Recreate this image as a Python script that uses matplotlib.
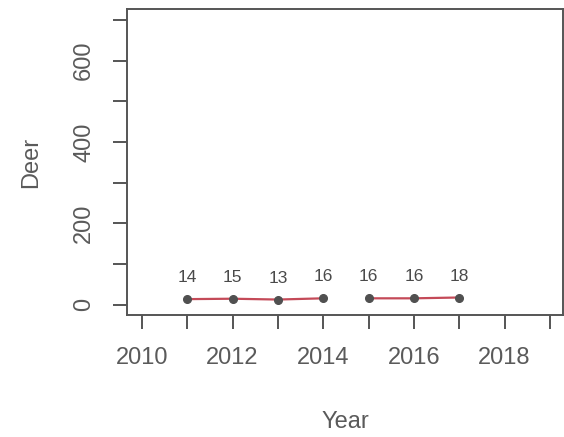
import matplotlib
matplotlib.use("Agg")
import matplotlib.pyplot as plt
import numpy as np

years_a = [2011, 2012, 2013, 2014]
deer_a = [14, 15, 13, 16]
years_b = [2015, 2016, 2017]
deer_b = [16, 16, 18]

xticks = list(range(2010, 2020))
xticklabels = [str(y) if y % 2 == 0 else "" for y in xticks]
yticks = list(range(0, 800, 100))
yticklabels = [str(v) if v % 200 == 0 else "" for v in yticks]

plt.rcParams['font.family'] = ['Liberation Sans', 'DejaVu Sans']
txt = '#5a5a5a'
axc = '#555555'

fig = plt.figure(figsize=(5.64, 4.37), dpi=100)
ax = fig.add_axes([127/564, 1-315/437, 436/564, 306/437])

line_col = '#c44a58'
pt_col = '#505050'
for xs, ys in [(years_a, deer_a), (years_b, deer_b)]:
    ax.plot(xs, ys, color=line_col, lw=1.6, zorder=2)
    ax.plot(xs, ys, 'o', color=pt_col, ms=5.5, zorder=3)
    for x, y in zip(xs, ys):
        ax.annotate(str(y), (x, y), xytext=(0, 10), textcoords='offset points',
                    ha='center', va='bottom', fontsize=12.5, color='#4a4a4a')

ax.set_xlim(2009.67, 2019.29)
ax.set_ylim(-25, 727)
ax.set_xticks(xticks)
ax.set_xticklabels(xticklabels)
ax.set_yticks(yticks)
ax.set_yticklabels(yticklabels, rotation=90, va='center')
ax.tick_params(axis='both', direction='out', length=10, width=1.4, color=axc,
               labelcolor=txt, labelsize=17)
ax.tick_params(axis='x', pad=13)
ax.tick_params(axis='y', pad=13)
for s in ax.spines.values():
    s.set_color(axc)
    s.set_linewidth(1.4)

ax.set_xlabel('Year', fontsize=17, color=txt, labelpad=30)
ax.set_ylabel('Deer', fontsize=17, color=txt, labelpad=22)

fig.savefig('out.png', dpi=100)
